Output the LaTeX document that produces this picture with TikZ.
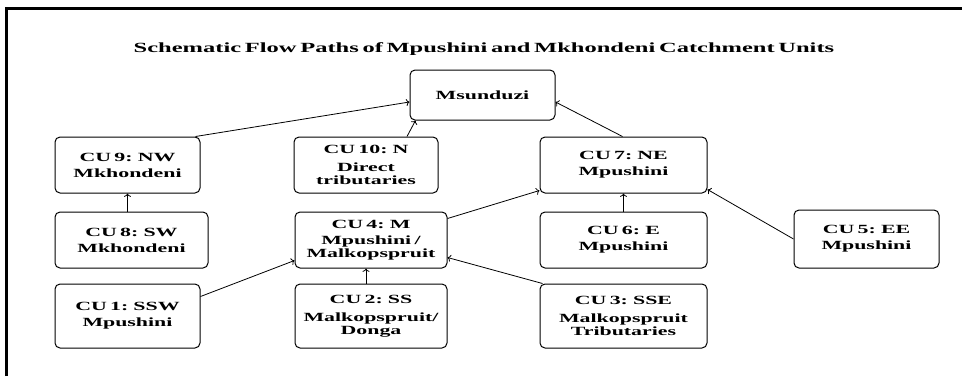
\documentclass[tikz,border=0pt]{standalone}
\usepackage{fontspec}
\setmainfont{Liberation Serif}[FakeStretch=1.75, WordSpace=0.6]
\usetikzlibrary{arrows.meta,calc}

\tikzset{
  cubox/.style={draw, rounded corners=5pt, line width=1pt, align=center, inner sep=0pt,
    font=\fontsize{12.5}{13}\selectfont\bfseries},
  flow/.style={->, line width=0.8pt}
}

\begin{document}
\begin{tikzpicture}[x=1pt,y=-1pt]
\useasboundingbox (0,0) rectangle (962,376);

% Frame
\draw[line width=3pt] (6,376)--(6,8)--(962,8);

% Title
\node[font=\fontsize{14}{15}\selectfont\bfseries] (title) at (484,49)
  {Schematic Flow Paths of Mpushini and Mkhondeni Catchment Units};

% Outlet
\node[cubox, minimum width=145, minimum height=50] (msun) at (482.5,95) {Msunduzi};

% Top row
\node[cubox, minimum width=145, minimum height=56] (cu9) at (127.5,165) {CU 9: NW\\[3pt]Mkhondeni};
\node[cubox, minimum width=144, minimum height=56] (cu10) at (366,165) {CU 10: N\\[5pt]Direct\\tributaries};
\node[cubox, minimum width=167, minimum height=56] (cu7) at (623.5,165) {CU 7: NE\\[3pt]Mpushini};

% Middle row
\node[cubox, minimum width=153, minimum height=56] (cu8) at (131.5,240) {CU 8: SW\\[3pt]Mkhondeni};
\node[cubox, minimum width=152, minimum height=56] (cu4) at (371,240) {CU 4: M\\[3pt]Mpushini /\\Malkopspruit};
\node[cubox, minimum width=167, minimum height=56] (cu6) at (623.5,240) {CU 6: E\\[3pt]Mpushini};
\node[cubox, minimum width=145, minimum height=58] (cu5) at (866.5,239) {CU 5: EE\\[3pt]Mpushini};

% Bottom row
\node[cubox, minimum width=145, minimum height=64] (cu1) at (127.5,316) {CU 1: SSW\\[3pt]Mpushini};
\node[cubox, minimum width=152, minimum height=64] (cu2) at (371,316) {CU 2: SS\\[5pt]Malkopspruit/\\Donga};
\node[cubox, minimum width=167, minimum height=64] (cu3) at (623.5,316) {CU 3: SSE\\[5pt]Malkopspruit\\Tributaries};

% Flow paths
\draw[flow] ([xshift=-5pt]cu9.north east)--([yshift=-7pt]msun.west);
\draw[flow] ([xshift=41pt]cu10.north)--([xshift=6pt]msun.south west);
\draw[flow] ([xshift=-1pt]cu7.north)--([yshift=-7pt]msun.east);
\draw[flow] (cu8.north -| cu9.south)--(cu9.south);
\draw[flow] ([yshift=-13pt]cu1.north east)--([yshift=8pt]cu4.south west);
\draw[flow] ([xshift=-5pt]cu2.north)--([xshift=-5pt]cu4.south);
\draw[flow] ([xshift=3pt]cu3.north west)--([yshift=11pt]cu4.south east);
\draw[flow] ([yshift=-7pt]cu4.north east)--([yshift=3pt]cu7.south west);
\draw[flow] (cu6.north)--(cu7.south);
\draw[flow] (cu5.west)--([yshift=4pt]cu7.south east);
\end{tikzpicture}
\end{document}
